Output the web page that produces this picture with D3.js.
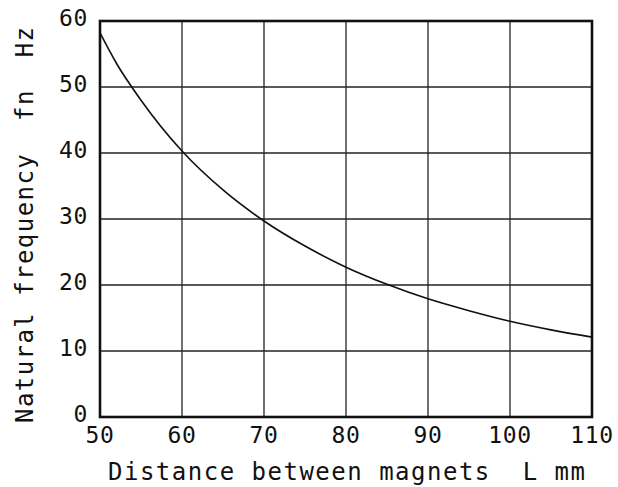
<!DOCTYPE html>
<html>
<head>
    <script src="https://d3js.org/d3.v7.min.js"></script>
    <style>
        body { margin: 0; background: #fff; }
        text { font-family: "DejaVu Sans Mono", monospace; fill: #111; }
        .grid line { stroke: #222; stroke-width: 1.3px; }
        .frame { fill: none; stroke: #111; stroke-width: 2.6px; }
        .curve { fill: none; stroke: #111; stroke-width: 1.6px; }
    </style>
</head>
<body>
    <div id="chart"></div>
    <script>
        // values
        const distance = [50, 52, 55, 60, 65, 70, 75, 80, 85, 90, 95, 100, 105, 110];
        const frequency = [58.2, 53.6, 48.0, 40.3, 34.4, 29.7, 25.9, 22.7, 20.1, 17.9, 16.1, 14.5, 13.2, 12.1];
        const xTicks = [50, 60, 70, 80, 90, 100, 110];
        const yTicks = [0, 10, 20, 30, 40, 50, 60];

        const W = 618, H = 487;
        const pLeft = 100, pRight = 592, pTop = 21, pBottom = 417;

        let svg = d3.select("#chart").append("svg")
            .attr("width", W)
            .attr("height", H);

        let x = d3.scaleLinear().domain([50, 110]).range([pLeft, pRight]);
        let y = d3.scaleLinear().domain([0, 60]).range([pBottom, pTop]);

        // grid
        let grid = svg.append("g").attr("class", "grid");
        grid.selectAll(".vx")
            .data(xTicks.slice(1, -1))
            .enter().append("line")
            .attr("x1", d => x(d)).attr("x2", d => x(d))
            .attr("y1", pTop).attr("y2", pBottom);
        grid.selectAll(".hy")
            .data(yTicks.slice(1, -1))
            .enter().append("line")
            .attr("x1", pLeft).attr("x2", pRight)
            .attr("y1", d => y(d)).attr("y2", d => y(d));

        // frame
        svg.append("rect")
            .attr("class", "frame")
            .attr("x", pLeft).attr("y", pTop)
            .attr("width", pRight - pLeft).attr("height", pBottom - pTop);

        // curve
        let line = d3.line()
            .x((d, i) => x(distance[i]))
            .y(d => y(d))
            .curve(d3.curveMonotoneX);
        svg.append("path")
            .datum(frequency)
            .attr("class", "curve")
            .attr("d", line);

        // tick labels
        svg.selectAll(".xt")
            .data(xTicks)
            .enter().append("text")
            .attr("x", d => x(d))
            .attr("y", 443)
            .attr("text-anchor", "middle")
            .attr("font-size", 23)
            .attr("letter-spacing", 0.6)
            .text(d => d);

        svg.selectAll(".yt")
            .data(yTicks)
            .enter().append("text")
            .attr("x", 88)
            .attr("y", d => y(d) + 5)
            .attr("text-anchor", "end")
            .attr("font-size", 23)
            .attr("letter-spacing", 0.6)
            .text(d => d);

        // axis titles
        svg.append("text")
            .attr("x", 108)
            .attr("y", 480)
            .attr("font-size", 24)
            .attr("textLength", 477)
            .attr("lengthAdjust", "spacing")
            .style("white-space", "pre")
            .text("Distance between magnets  L mm");

        svg.append("text")
            .attr("transform", "translate(33,423) rotate(-90)")
            .attr("font-size", 24)
            .attr("textLength", 396)
            .attr("lengthAdjust", "spacing")
            .style("white-space", "pre")
            .text("Natural frequency  fn  Hz");
    </script>
</body>
</html>
